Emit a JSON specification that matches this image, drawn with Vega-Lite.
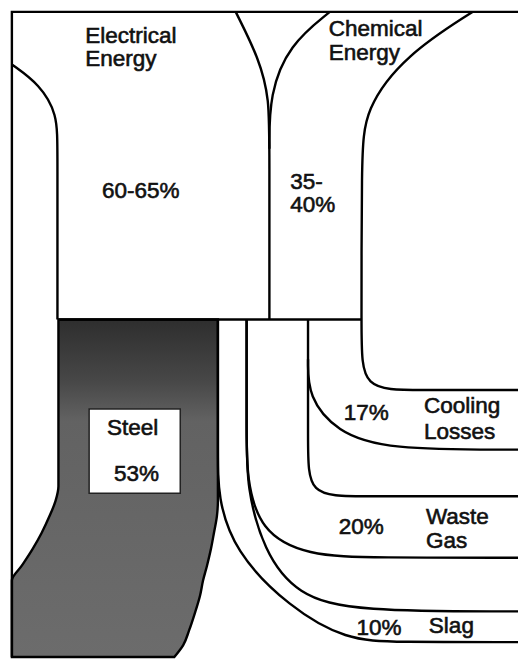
{
  "$schema": "https://vega.github.io/schema/vega-lite/v6.json",
  "width": 523,
  "height": 662,
  "autosize": {"type": "fit", "contains": "padding"},
  "padding": 0,
  "background": "white",
  "config": {"view": {"stroke": null}},
  "datasets": {
    "steel": [
      {"y": 322, "xl": 59, "xr": 220},
      {"y": 490, "xl": 59, "xr": 220},
      {"y": 505, "xl": 56, "xr": 220},
      {"y": 520, "xl": 50, "xr": 219},
      {"y": 537, "xl": 42, "xr": 216},
      {"y": 553, "xl": 33, "xr": 213},
      {"y": 570, "xl": 22, "xr": 209},
      {"y": 585, "xl": 12, "xr": 205},
      {"y": 600, "xl": 12, "xr": 202},
      {"y": 617, "xl": 12, "xr": 197},
      {"y": 635, "xl": 12, "xr": 191},
      {"y": 650, "xl": 12, "xr": 185},
      {"y": 662, "xl": 12, "xr": 176}
    ],
    "box": [{"x": 90, "x2": 182, "y": 412, "y2": 497}],
    "straight": [
      {"p": "border", "i": 0, "x": 12, "y": 662},
      {"p": "border", "i": 1, "x": 12, "y": 12},
      {"p": "border", "i": 2, "x": 523, "y": 12},
      {"p": "mid", "i": 0, "x": 59, "y": 322},
      {"p": "mid", "i": 1, "x": 365, "y": 322}
    ],
    "curves": [
      {"p": "elecL", "i": 0, "x": 12, "y": 65},
      {"p": "elecL", "i": 1, "x": 40, "y": 85},
      {"p": "elecL", "i": 2, "x": 58, "y": 115},
      {"p": "elecL", "i": 3, "x": 58, "y": 150},
      {"p": "elecL", "i": 4, "x": 58, "y": 322},
      {"p": "elecR", "i": 0, "x": 238, "y": 12},
      {"p": "elecR", "i": 1, "x": 262, "y": 60},
      {"p": "elecR", "i": 2, "x": 272, "y": 100},
      {"p": "elecR", "i": 3, "x": 272, "y": 150},
      {"p": "elecR", "i": 4, "x": 272, "y": 322},
      {"p": "chemL", "i": 0, "x": 333, "y": 12},
      {"p": "chemL", "i": 1, "x": 292, "y": 45},
      {"p": "chemL", "i": 2, "x": 272, "y": 95},
      {"p": "chemL", "i": 3, "x": 272, "y": 150},
      {"p": "chemR", "i": 0, "x": 477, "y": 12},
      {"p": "chemR", "i": 1, "x": 410, "y": 55},
      {"p": "chemR", "i": 2, "x": 368, "y": 110},
      {"p": "chemR", "i": 3, "x": 365, "y": 160},
      {"p": "chemR", "i": 4, "x": 365, "y": 340},
      {"p": "chemR", "i": 5, "x": 365, "y": 393},
      {"p": "chemR", "i": 6, "x": 420, "y": 393},
      {"p": "chemR", "i": 7, "x": 523, "y": 393},
      {"p": "coolB", "i": 0, "x": 311, "y": 362},
      {"p": "coolB", "i": 1, "x": 311, "y": 400},
      {"p": "coolB", "i": 2, "x": 340, "y": 435},
      {"p": "coolB", "i": 3, "x": 390, "y": 453},
      {"p": "coolB", "i": 4, "x": 523, "y": 453},
      {"p": "wasteT", "i": 0, "x": 311, "y": 322},
      {"p": "wasteT", "i": 1, "x": 311, "y": 450},
      {"p": "wasteT", "i": 2, "x": 311, "y": 500},
      {"p": "wasteT", "i": 3, "x": 360, "y": 500},
      {"p": "wasteT", "i": 4, "x": 523, "y": 500},
      {"p": "wasteB", "i": 0, "x": 249, "y": 322},
      {"p": "wasteB", "i": 1, "x": 249, "y": 440},
      {"p": "wasteB", "i": 2, "x": 249, "y": 480},
      {"p": "wasteB", "i": 3, "x": 262, "y": 535},
      {"p": "wasteB", "i": 4, "x": 310, "y": 560},
      {"p": "wasteB", "i": 5, "x": 380, "y": 562},
      {"p": "wasteB", "i": 6, "x": 523, "y": 562},
      {"p": "slagT", "i": 0, "x": 249, "y": 322},
      {"p": "slagT", "i": 1, "x": 249, "y": 440},
      {"p": "slagT", "i": 2, "x": 249, "y": 490},
      {"p": "slagT", "i": 3, "x": 266, "y": 555},
      {"p": "slagT", "i": 4, "x": 300, "y": 600},
      {"p": "slagT", "i": 5, "x": 360, "y": 616},
      {"p": "slagT", "i": 6, "x": 523, "y": 616},
      {"p": "slagB", "i": 0, "x": 220, "y": 322},
      {"p": "slagB", "i": 1, "x": 220, "y": 460},
      {"p": "slagB", "i": 2, "x": 220, "y": 500},
      {"p": "slagB", "i": 3, "x": 236, "y": 555},
      {"p": "slagB", "i": 4, "x": 292, "y": 612},
      {"p": "slagB", "i": 5, "x": 350, "y": 645},
      {"p": "slagB", "i": 6, "x": 400, "y": 647},
      {"p": "slagB", "i": 7, "x": 523, "y": 647}
    ],
    "labels": [
      {"t": "Electrical", "x": 86, "y": 43},
      {"t": "Energy", "x": 86, "y": 66},
      {"t": "Chemical", "x": 332, "y": 36},
      {"t": "Energy", "x": 332, "y": 60},
      {"t": "60-65%", "x": 103, "y": 200},
      {"t": "35-", "x": 293, "y": 190},
      {"t": "40%", "x": 293, "y": 214},
      {"t": "Steel", "x": 108, "y": 438},
      {"t": "53%", "x": 115, "y": 485},
      {"t": "17%", "x": 347, "y": 423},
      {"t": "Cooling", "x": 428, "y": 416},
      {"t": "Losses", "x": 428, "y": 442},
      {"t": "20%", "x": 342, "y": 538},
      {"t": "Waste", "x": 430, "y": 528},
      {"t": "Gas", "x": 430, "y": 552},
      {"t": "10%", "x": 360, "y": 640},
      {"t": "Slag", "x": 433, "y": 638}
    ]
  },
  "layer": [
    {
      "data": {"name": "steel"},
      "mark": {
        "type": "area",
        "orient": "horizontal",
        "interpolate": "monotone",
        "stroke": "black",
        "strokeWidth": 2.4,
        "fill": {
          "gradient": "linear",
          "x1": 0, "y1": 0, "x2": 0, "y2": 1,
          "stops": [
            {"offset": 0, "color": "#2e2e2e"},
            {"offset": 0.18, "color": "#474747"},
            {"offset": 0.3, "color": "#626262"},
            {"offset": 1, "color": "#6c6c6c"}
          ]
        },
        "fillOpacity": 1
      },
      "encoding": {
        "y": {"field": "y", "type": "quantitative", "scale": {"domain": [0, 662], "reverse": true, "nice": false, "zero": false}, "axis": null},
        "x": {"field": "xl", "type": "quantitative", "scale": {"domain": [0, 523], "nice": false, "zero": false}, "axis": null},
        "x2": {"field": "xr"}
      }
    },
    {
      "data": {"name": "box"},
      "mark": {"type": "rect", "fill": "white", "stroke": "#222222", "strokeWidth": 1.5},
      "encoding": {
        "x": {"field": "x", "type": "quantitative", "scale": {"domain": [0, 523], "nice": false, "zero": false}, "axis": null},
        "x2": {"field": "x2"},
        "y": {"field": "y", "type": "quantitative", "scale": {"domain": [0, 662], "reverse": true, "nice": false, "zero": false}, "axis": null},
        "y2": {"field": "y2"}
      }
    },
    {
      "data": {"name": "straight"},
      "mark": {"type": "line", "interpolate": "linear", "color": "black", "strokeWidth": 2.4},
      "encoding": {
        "x": {"field": "x", "type": "quantitative", "scale": {"domain": [0, 523], "nice": false, "zero": false}, "axis": null},
        "y": {"field": "y", "type": "quantitative", "scale": {"domain": [0, 662], "reverse": true, "nice": false, "zero": false}, "axis": null},
        "detail": {"field": "p"},
        "order": {"field": "i"}
      }
    },
    {
      "data": {"name": "curves"},
      "mark": {"type": "line", "interpolate": "basis", "color": "black", "strokeWidth": 2.4},
      "encoding": {
        "x": {"field": "x", "type": "quantitative", "scale": {"domain": [0, 523], "nice": false, "zero": false}, "axis": null},
        "y": {"field": "y", "type": "quantitative", "scale": {"domain": [0, 662], "reverse": true, "nice": false, "zero": false}, "axis": null},
        "detail": {"field": "p"},
        "order": {"field": "i"}
      }
    },
    {
      "data": {"name": "labels"},
      "mark": {"type": "text", "align": "left", "baseline": "alphabetic", "font": "Liberation Sans", "fontSize": 22.5, "color": "#111111", "stroke": "#111111", "strokeWidth": 0.6},
      "encoding": {
        "x": {"field": "x", "type": "quantitative", "scale": {"domain": [0, 523], "nice": false, "zero": false}, "axis": null},
        "y": {"field": "y", "type": "quantitative", "scale": {"domain": [0, 662], "reverse": true, "nice": false, "zero": false}, "axis": null},
        "text": {"field": "t"}
      }
    }
  ]
}
